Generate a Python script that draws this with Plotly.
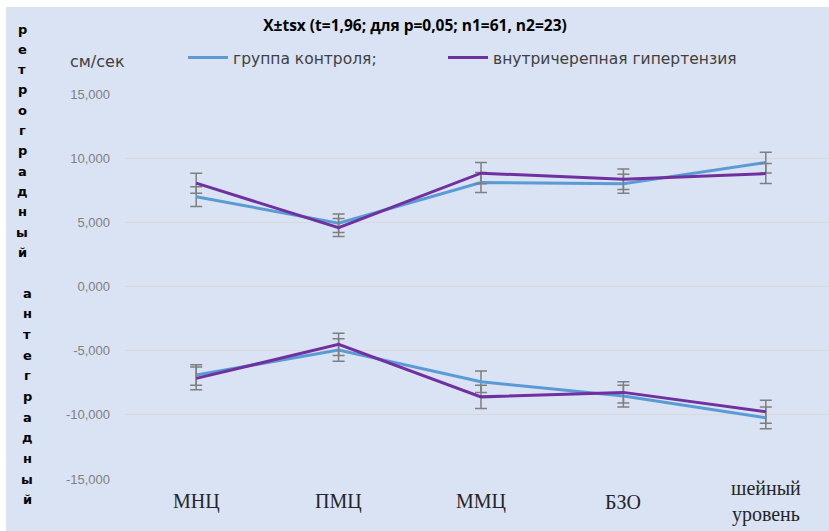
import plotly.graph_objects as go

# Measurement sites
categories = ["МНЦ", "ПМЦ", "ММЦ", "БЗО", "шейный<br>уровень"]

# Retrograde flow, cm/s (mean and X±t·sx half-width)
control_retro = [7.00, 4.93, 8.10, 8.00, 9.66]
control_retro_err = [0.77, 0.72, 0.78, 0.74, 0.81]
icp_retro = [8.05, 4.59, 8.83, 8.36, 8.80]
icp_retro_err = [0.78, 0.70, 0.83, 0.80, 0.78]

# Antegrade flow, cm/s
control_ante = [-6.90, -4.95, -7.42, -8.54, -10.23]
control_ante_err = [0.80, 0.88, 0.83, 0.85, 0.85]
icp_ante = [-7.16, -4.51, -8.60, -8.25, -9.76]
icp_ante_err = [0.88, 0.86, 0.90, 0.83, 0.90]

series_names = ["группа контроля;", "внутричерепная гипертензия"]
y_ticks = [-15, -10, -5, 0, 5, 10, 15]
y_tick_text = ["-15,000", "-10,000", "-5,000", "0,000", "5,000", "10,000", "15,000"]

title_text = "X±tsx (t=1,96; для p=0,05; n1=61, n2=23)"
unit_text = "см/сек"
side_word_top = "ретроградный"
side_word_bottom = "антеградный"

BLUE = "#5B9BD5"
PURPLE = "#7030A0"
BG = "#DAE3F3"
ERR = "#7F7F7F"

W, H = 829, 531
L, R, T, B = 125, 0, 94, 52
PW, PH = W - L - R, H - T - B


def px_x(px):
    return (px - L) / PW


def px_y(py):
    return (H - B - py) / PH


fig = go.Figure()


def add_series(y, err, color, name, show, legend):
    fig.add_trace(go.Scatter(
        x=categories, y=y, mode="lines", name=name,
        legendgroup=name, showlegend=show, legend=legend,
        line=dict(color=color, width=3),
        error_y=dict(type="data", array=err, visible=True,
                     color=ERR, thickness=1.5, width=6),
    ))


add_series(control_retro, control_retro_err, BLUE, series_names[0], True, "legend")
add_series(control_ante, control_ante_err, BLUE, series_names[0], False, "legend")
add_series(icp_retro, icp_retro_err, PURPLE, series_names[1], True, "legend2")
add_series(icp_ante, icp_ante_err, PURPLE, series_names[1], False, "legend2")

annotations = []

# category labels centred under each site
for c in categories:
    annotations.append(dict(
        x=c, xref="x", y=px_y(502), yref="paper",
        text=c, showarrow=False, xanchor="center", yanchor="middle",
        font=dict(family="Liberation Serif", size=20, color="#262626"),
    ))

# unit label
annotations.append(dict(
    x=px_x(97), xref="paper", y=px_y(62), yref="paper",
    text=unit_text, showarrow=False, xanchor="center", yanchor="middle",
    font=dict(family="DejaVu Sans", size=16, color="#404040"),
))

# vertical side captions, one letter per line
for i, ch in enumerate(side_word_top):
    annotations.append(dict(
        x=px_x(22), xref="paper", y=px_y(29 + i * 20.3), yref="paper",
        text=ch, showarrow=False, xanchor="center", yanchor="middle",
        font=dict(family="DejaVu Sans", size=13, color="#000000", weight="bold"),
    ))
for i, ch in enumerate(side_word_bottom):
    annotations.append(dict(
        x=px_x(27), xref="paper", y=px_y(293 + i * 20.7), yref="paper",
        text=ch, showarrow=False, xanchor="center", yanchor="middle",
        font=dict(family="DejaVu Sans", size=13, color="#000000", weight="bold"),
    ))

shapes = [
    # white frame strips around the chart area
    dict(type="rect", xref="paper", yref="paper",
         x0=px_x(0), x1=px_x(W), y0=px_y(7), y1=px_y(0),
         fillcolor="white", line=dict(width=0), layer="above"),
    dict(type="rect", xref="paper", yref="paper",
         x0=px_x(0), x1=px_x(6), y0=px_y(H), y1=px_y(0),
         fillcolor="white", line=dict(width=0), layer="above"),
]

legend_style = dict(
    orientation="h", xref="paper", yref="paper",
    xanchor="left", yanchor="middle",
    bgcolor="rgba(0,0,0,0)", itemwidth=40,
    font=dict(family="DejaVu Sans", size=15.5, color="#404040"),
)

fig.update_layout(
    width=W, height=H,
    margin=dict(l=L, r=R, t=T, b=B, pad=0),
    paper_bgcolor=BG, plot_bgcolor=BG,
    title=dict(
        text=title_text, xref="paper", x=px_x(415), xanchor="center",
        yref="container", y=1 - 26 / H, yanchor="middle",
        font=dict(family="Open Sans", size=15.5, color="#000000", weight="bold"),
    ),
    legend=dict(legend_style, x=px_x(183), y=px_y(58)),
    legend2=dict(legend_style, x=px_x(443), y=px_y(58)),
    xaxis=dict(
        type="category", range=[-0.5, -0.5 + PW / 142.4],
        showticklabels=False, showgrid=False, zeroline=False,
        showline=False, ticks="",
    ),
    yaxis=dict(
        range=[-15, 15], tickvals=y_ticks, ticktext=y_tick_text,
        showgrid=True, gridcolor="#D9D9D9", gridwidth=1,
        zeroline=False, showline=False, ticks="",
        ticklabelstandoff=14,
        tickfont=dict(family="Liberation Sans", size=13, color="#808080"),
    ),
    annotations=annotations,
    shapes=shapes,
)

fig.write_html("out.html")
